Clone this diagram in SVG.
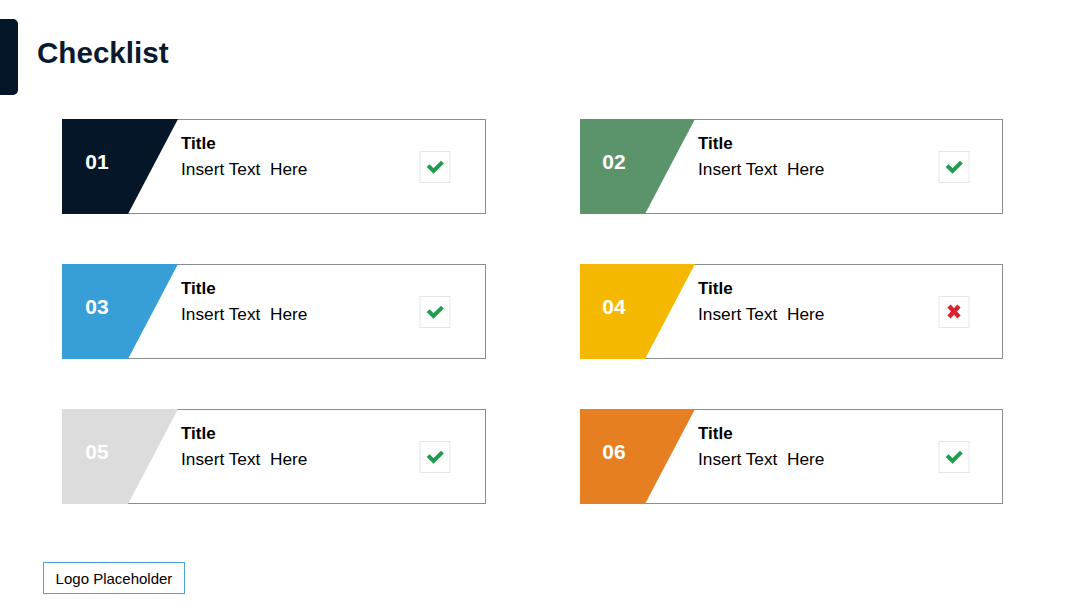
<svg xmlns="http://www.w3.org/2000/svg" width="1080" height="608" viewBox="0 0 1080 608">
<defs>
<style>
.card{fill:#fff;stroke:#8c8c8c;stroke-width:1}
.num{font-family:"Liberation Sans",Arial,sans-serif;font-weight:bold;font-size:21px;fill:#fff;text-anchor:middle}
.ttl{font-family:"Liberation Sans",Arial,sans-serif;font-weight:bold;font-size:17px;fill:#000}
.txt{font-family:"Liberation Sans",Arial,sans-serif;font-size:17.3px;fill:#000;white-space:pre}
.box{fill:#fff;stroke:#e6e6e6;stroke-width:1}
.chk{fill:none;stroke:#1f9d4b;stroke-width:4;stroke-linecap:square}
.crs{fill:none;stroke:#d9232e;stroke-width:4.5}
</style>
<g id="check"><rect class="box" x="0" y="0" width="30" height="31"/><path class="chk" d="M9.5 15.5 L13.5 19.5 L21 12"/></g>
</defs>
<rect width="1080" height="608" fill="#fff"/>
<g id="header">
<rect x="-10" y="19" width="28" height="76" rx="5" fill="#061629"/>
<text x="37" y="63" font-family="Liberation Sans,Arial,sans-serif" font-weight="bold" font-size="29.6" fill="#0a1a2e">Checklist</text>
</g>
<g id="item01">
<rect class="card" x="62.5" y="119.5" width="423" height="94"/>
<polygon points="62,119 178,119 128,214 62,214" fill="#061629"/>
<text class="num" x="97" y="169">01</text>
<text class="ttl" x="181" y="149">Title</text>
<text class="txt" x="181" y="175" xml:space="preserve">Insert Text  Here</text>
<use href="#check" x="420" y="151.5"/>
</g>
<g id="item02">
<rect class="card" x="580.5" y="119.5" width="422" height="94"/>
<polygon points="580,119 695,119 645,214 580,214" fill="#5b936a"/>
<text class="num" x="614" y="169">02</text>
<text class="ttl" x="698" y="149">Title</text>
<text class="txt" x="698" y="175" xml:space="preserve">Insert Text  Here</text>
<use href="#check" x="939" y="151.5"/>
</g>
<g id="item03">
<rect class="card" x="62.5" y="264.5" width="423" height="94"/>
<polygon points="62,264 178,264 128,359 62,359" fill="#389ed8"/>
<text class="num" x="97" y="314">03</text>
<text class="ttl" x="181" y="294">Title</text>
<text class="txt" x="181" y="320" xml:space="preserve">Insert Text  Here</text>
<use href="#check" x="420" y="296.5"/>
</g>
<g id="item04">
<rect class="card" x="580.5" y="264.5" width="422" height="94"/>
<polygon points="580,264 695,264 645,359 580,359" fill="#f5b800"/>
<text class="num" x="614" y="314">04</text>
<text class="ttl" x="698" y="294">Title</text>
<text class="txt" x="698" y="320" xml:space="preserve">Insert Text  Here</text>
<rect class="box" x="939" y="296.5" width="30" height="31"/>
<path class="crs" d="M949 306 L959 317 M959 306 L949 317"/>
</g>
<g id="item05">
<rect class="card" x="62.5" y="409.5" width="423" height="94"/>
<polygon points="62,409 178,409 128,504 62,504" fill="#dcdcdc"/>
<text class="num" x="97" y="459">05</text>
<text class="ttl" x="181" y="439">Title</text>
<text class="txt" x="181" y="465" xml:space="preserve">Insert Text  Here</text>
<use href="#check" x="420" y="441.5"/>
</g>
<g id="item06">
<rect class="card" x="580.5" y="409.5" width="422" height="94"/>
<polygon points="580,409 695,409 645,504 580,504" fill="#e67e22"/>
<text class="num" x="614" y="459">06</text>
<text class="ttl" x="698" y="439">Title</text>
<text class="txt" x="698" y="465" xml:space="preserve">Insert Text  Here</text>
<use href="#check" x="939" y="441.5"/>
</g>
<g id="logo">
<rect x="43.5" y="562.5" width="141" height="31" fill="#fff" stroke="#4aa3d6" stroke-width="1"/>
<text x="114" y="583.5" text-anchor="middle" font-family="Liberation Sans,Arial,sans-serif" font-size="15" fill="#000">Logo Placeholder</text>
</g>
<g id="connectors"/>
</svg>
